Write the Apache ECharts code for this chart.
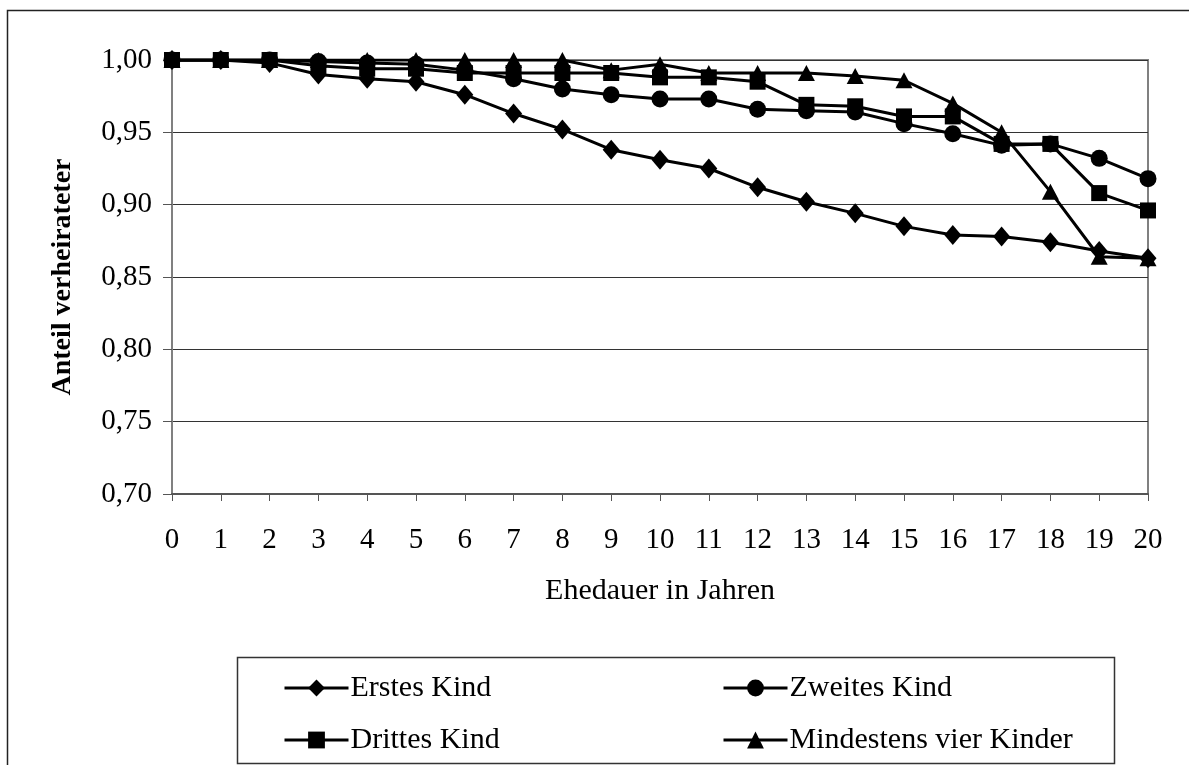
<!DOCTYPE html>
<html>
<head>
<meta charset="utf-8">
<script src="https://cdn.jsdelivr.net/npm/echarts@6/dist/echarts.min.js"></script>
<style>
  html, body { margin: 0; padding: 0; background: #fff; }
  #chart { width: 1189px; height: 765px; }
</style>
</head>
<body>
<div id="chart"></div>
<script>
// Ehedauer in Jahren (Kategorien der x-Achse)
const years = ['0','1','2','3','4','5','6','7','8','9','10','11','12','13','14','15','16','17','18','19','20'];

// Anteil verheirateter nach Geburtsrang des Kindes
const erstesKind = [1.000, 1.000, 0.998, 0.990, 0.987, 0.985, 0.976, 0.963, 0.952, 0.938, 0.931, 0.925, 0.912, 0.902, 0.894, 0.885, 0.879, 0.878, 0.874, 0.868, 0.863];
const zweitesKind = [1.000, 1.000, 1.000, 0.999, 0.998, 0.997, 0.993, 0.987, 0.980, 0.976, 0.973, 0.973, 0.966, 0.965, 0.964, 0.956, 0.949, 0.941, 0.942, 0.932, 0.918];
const drittesKind = [1.000, 1.000, 1.000, 0.996, 0.994, 0.994, 0.991, 0.991, 0.991, 0.991, 0.988, 0.988, 0.985, 0.969, 0.968, 0.961, 0.961, 0.942, 0.942, 0.908, 0.896];
const vierKinder = [1.000, 1.000, 1.000, 1.000, 1.000, 1.000, 1.000, 1.000, 1.000, 0.993, 0.997, 0.991, 0.991, 0.991, 0.989, 0.986, 0.970, 0.950, 0.909, 0.864, 0.863];

const seriesNames = ['Erstes Kind', 'Zweites Kind', 'Drittes Kind', 'Mindestens vier Kinder'];

const FONT = '"Liberation Serif", "Times New Roman", serif';

function lineSeries(name, data, symbol, size) {
  return {
    name: name,
    type: 'line',
    data: data,
    symbol: symbol,
    symbolSize: size,
    showAllSymbol: true,
    lineStyle: { color: '#000', width: 3 },
    itemStyle: { color: '#000' },
    emphasis: { disabled: true },
    animation: false
  };
}

const legendText = { fontFamily: FONT, fontSize: 30, color: '#000', padding: [0, 0, 0, -3] };

function legendColumn(names, left) {
  return {
    data: names,
    orient: 'vertical',
    left: left, top: 668,
    itemWidth: 64, itemHeight: 21, itemGap: 22,
    lineStyle: { width: 3, color: '#000' },
    textStyle: legendText,
    selectedMode: false
  };
}

const chart = echarts.init(document.getElementById('chart'), null, { renderer: 'canvas' });

chart.setOption({
  backgroundColor: '#fff',
  animation: false,
  grid: {
    left: 172, top: 60, right: 41, bottom: 271,
    show: true, borderColor: '#808080', borderWidth: 2, backgroundColor: 'transparent'
  },
  xAxis: {
    type: 'category',
    data: years,
    boundaryGap: false,
    name: 'Ehedauer in Jahren',
    nameLocation: 'middle',
    nameGap: 82,
    nameTextStyle: { fontFamily: FONT, fontSize: 30, color: '#000' },
    axisLine: { lineStyle: { color: '#555', width: 2 } },
    axisTick: { show: true, length: 7, lineStyle: { color: '#555', width: 1 } },
    axisLabel: { fontFamily: FONT, fontSize: 29, color: '#000', margin: 32, interval: 0 },
    splitLine: { show: false }
  },
  yAxis: {
    type: 'value',
    min: 0.70, max: 1.00, interval: 0.05,
    name: 'Anteil verheirateter',
    nameLocation: 'middle',
    nameGap: 95,
    nameTextStyle: { fontFamily: FONT, fontSize: 28, fontWeight: 'bold', color: '#000' },
    axisLine: { show: true, lineStyle: { color: '#808080', width: 2 } },
    axisTick: { show: true, length: 9, lineStyle: { color: '#555', width: 1 } },
    axisLabel: {
      fontFamily: FONT, fontSize: 29, color: '#000', margin: 20,
      formatter: v => v.toFixed(2).replace('.', ',')
    },
    splitLine: { show: true, lineStyle: { color: '#333', width: 1 } }
  },
  legend: [
    legendColumn([seriesNames[0], seriesNames[2]], 278),
    legendColumn([seriesNames[1], seriesNames[3]], 717)
  ],
  graphic: [
    {
      type: 'rect', silent: true,
      shape: { x: 7.5, y: 10.5, width: 1200, height: 800 },
      style: { fill: 'none', stroke: '#222', lineWidth: 1.5 }
    },
    {
      type: 'rect', silent: true,
      shape: { x: 237.5, y: 657.5, width: 877, height: 106 },
      style: { fill: 'none', stroke: '#333', lineWidth: 1.5 }
    }
  ],
  series: [
    lineSeries(seriesNames[0], erstesKind, 'diamond', [17, 20]),
    lineSeries(seriesNames[1], zweitesKind, 'circle', 17),
    lineSeries(seriesNames[2], drittesKind, 'rect', 16),
    lineSeries(seriesNames[3], vierKinder, 'triangle', [17, 16])
  ]
});
</script>
</body>
</html>
